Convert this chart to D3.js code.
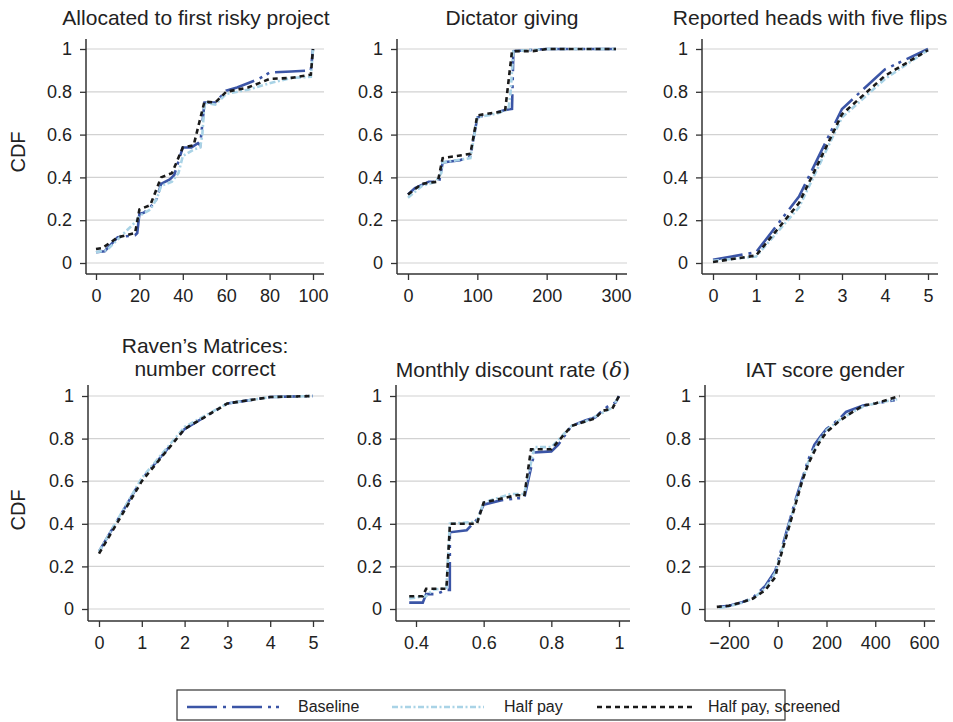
<!DOCTYPE html>
<html>
<head>
<meta charset="utf-8">
<script src="https://cdn.jsdelivr.net/npm/d3@7"></script>
<style>
  body { margin: 0; background: #fff; }
  svg { font-family: "Liberation Sans", Arial, sans-serif; }
</style>
</head>
<body>
<div id="chart"></div>
<script>
// series names
const seriesNames = ["Baseline", "Half pay", "Half pay, screened"];

// panel titles
const titles = [
  ["Allocated to first risky project"],
  ["Dictator giving"],
  ["Reported heads with five flips"],
  ["Raven\u2019s Matrices:", "number correct"],
  ["Monthly discount rate "],
  ["IAT score gender"]
];

// x tick labels per panel
const xTicks = [
  [0, 20, 40, 60, 80, 100],
  [0, 100, 200, 300],
  [0, 1, 2, 3, 4, 5],
  [0, 1, 2, 3, 4, 5],
  [0.4, 0.6, 0.8, 1],
  [-200, 0, 200, 400, 600]
];
const yTicks = [0, 0.2, 0.4, 0.6, 0.8, 1];

// Allocated to first risky project
const riskyBase = [[0,0.05],[4,0.055],[10,0.12],[18,0.13],[19,0.14],[20,0.23],[22,0.235],[25,0.26],[28,0.3],[30,0.37],[34,0.39],[36,0.41],[40,0.54],[44,0.54],[47,0.56],[48,0.55],[50,0.75],[55,0.75],[60,0.805],[65,0.82],[70,0.84],[75,0.86],[80,0.89],[90,0.895],[99,0.9],[100,1]];
const riskyHalf = [[0,0.05],[5,0.06],[10,0.11],[19,0.2],[20,0.22],[25,0.25],[28,0.3],[30,0.36],[35,0.38],[38,0.42],[40,0.5],[45,0.53],[48,0.54],[49,0.6],[50,0.75],[55,0.74],[60,0.79],[70,0.81],[80,0.84],[90,0.865],[99,0.87],[100,1]];
const riskyScr = [[0,0.065],[3,0.07],[10,0.12],[18,0.14],[20,0.25],[25,0.27],[30,0.4],[35,0.42],[40,0.54],[45,0.55],[50,0.755],[55,0.75],[60,0.8],[70,0.82],[80,0.86],[90,0.865],[99,0.88],[100,1]];

// Dictator giving
const dictBase = [[0,0.32],[10,0.35],[30,0.38],[45,0.38],[50,0.47],[75,0.48],[90,0.5],[100,0.68],[140,0.715],[150,0.72],[152,0.99],[200,1],[300,1]];
const dictHalf = [[0,0.305],[20,0.36],[40,0.38],[48,0.42],[50,0.47],[90,0.49],[100,0.68],[130,0.7],[145,0.72],[148,0.8],[152,0.99],[200,1],[300,1]];
const dictScr = [[0,0.32],[20,0.37],[43,0.38],[50,0.49],[90,0.51],[100,0.69],[140,0.71],[150,0.99],[180,0.99],[200,1],[300,1]];

// Reported heads with five flips
const headsBase = [[0,0.015],[1,0.05],[2,0.31],[3,0.72],[4,0.905],[5,1]];
const headsHalf = [[0,0.01],[1,0.03],[2,0.26],[3,0.68],[4,0.86],[5,0.995]];
const headsScr = [[0,0.005],[1,0.035],[2,0.28],[3,0.695],[4,0.875],[5,0.995]];

// Raven's Matrices
const ravenBase = [[0,0.27],[1,0.61],[2,0.845],[3,0.965],[4,0.995],[5,1]];
const ravenHalf = [[0,0.27],[1,0.615],[2,0.855],[3,0.965],[4,0.995],[5,1]];
const ravenScr = [[0,0.26],[1,0.6],[2,0.845],[3,0.965],[4,0.995],[5,1]];

// Monthly discount rate
const discBase = [[0.38,0.03],[0.42,0.03],[0.43,0.07],[0.46,0.07],[0.49,0.09],[0.5,0.09],[0.5,0.36],[0.55,0.37],[0.58,0.42],[0.6,0.49],[0.65,0.51],[0.7,0.52],[0.72,0.52],[0.75,0.735],[0.8,0.74],[0.82,0.77],[0.86,0.86],[0.9,0.885],[0.93,0.9],[0.95,0.93],[0.97,0.955],[0.99,0.97],[1,1]];
const discHalf = [[0.38,0.05],[0.43,0.06],[0.45,0.09],[0.49,0.1],[0.5,0.4],[0.58,0.41],[0.6,0.5],[0.68,0.54],[0.72,0.54],[0.75,0.76],[0.8,0.76],[0.86,0.86],[0.9,0.88],[0.95,0.92],[0.98,0.945],[1,1]];
const discScr = [[0.38,0.06],[0.42,0.06],[0.43,0.095],[0.49,0.095],[0.5,0.39],[0.5,0.4],[0.58,0.4],[0.6,0.5],[0.7,0.535],[0.72,0.53],[0.74,0.75],[0.8,0.75],[0.86,0.86],[0.9,0.88],[0.93,0.895],[0.95,0.93],[0.98,0.94],[1,1]];

// IAT score gender
const iatBase = [[-240,0.01],[-200,0.015],[-150,0.03],[-100,0.055],[-50,0.11],[-10,0.18],[0,0.22],[25,0.32],[50,0.42],[75,0.52],[100,0.61],[125,0.7],[150,0.77],[175,0.81],[200,0.845],[250,0.89],[280,0.925],[350,0.955],[400,0.965],[480,0.98]];
const iatHalf = [[-240,0.005],[-200,0.012],[-150,0.028],[-100,0.05],[-50,0.1],[-10,0.17],[0,0.21],[25,0.31],[50,0.41],[75,0.51],[100,0.6],[125,0.69],[150,0.75],[175,0.8],[200,0.84],[250,0.885],[300,0.92],[350,0.95],[400,0.965],[490,0.985]];
const iatScr = [[-250,0.01],[-200,0.015],[-150,0.03],[-100,0.05],[-50,0.09],[-10,0.15],[0,0.2],[25,0.3],[50,0.4],[75,0.5],[100,0.6],[125,0.68],[150,0.74],[175,0.79],[200,0.83],[250,0.88],[300,0.92],[350,0.955],[400,0.965],[500,1]];

const panelData = [
  [riskyBase, riskyHalf, riskyScr],
  [dictBase, dictHalf, dictScr],
  [headsBase, headsHalf, headsScr],
  [ravenBase, ravenHalf, ravenScr],
  [discBase, discHalf, discScr],
  [iatBase, iatHalf, iatScr]
];

// layout: plot box, and pixel positions of first/last x tick
const layout = [
  { left: 86,  right: 324, top: 39,  bottom: 274, y1: 49,  y0: 263, tx: [96, 313],  titleX: 196, titleY: [25] },
  { left: 397, right: 627, top: 39,  bottom: 274, y1: 49,  y0: 263, tx: [408, 616], titleX: 512, titleY: [25] },
  { left: 702, right: 938, top: 39,  bottom: 274, y1: 49,  y0: 263, tx: [713, 928], titleX: 810, titleY: [25] },
  { left: 88,  right: 324, top: 385, bottom: 621, y1: 396, y0: 609, tx: [99, 313],  titleX: 205, titleY: [353, 376] },
  { left: 396, right: 630, top: 385, bottom: 621, y1: 396, y0: 609, tx: [416, 619], titleX: 513, titleY: [377] },
  { left: 705, right: 935, top: 385, bottom: 621, y1: 396, y0: 609, tx: [729, 924], titleX: 825, titleY: [377] }
];

const styles = [
  { color: "#3b55a6", dash: "30,6,3,6,30,6,3,5,3,6", width: 2.6 },
  { color: "#a9d3e6", dash: "6,2.5,2,2.5", width: 2.6 },
  { color: "#1a1a1a", dash: "5,4", width: 2.6 }
];

const svg = d3.select("#chart").append("svg")
    .attr("width", 953)
    .attr("height", 722);

panelData.forEach((series, i) => {
  const L = layout[i];
  const ticks = xTicks[i];
  const x = d3.scaleLinear()
      .domain([ticks[0], ticks[ticks.length - 1]])
      .range(L.tx);
  const y = d3.scaleLinear().domain([0, 1]).range([L.y0, L.y1]);

  const g = svg.append("g");

  // gridlines
  g.selectAll("line.grid")
    .data(yTicks)
    .enter().append("line")
      .attr("x1", L.left).attr("x2", L.right)
      .attr("y1", d => y(d)).attr("y2", d => y(d))
      .attr("stroke", "#d2d2d2")
      .attr("stroke-width", 1.2);

  // y axis
  const yAxis = g.append("g")
      .attr("transform", `translate(${L.left},0)`)
      .call(d3.axisLeft(y).tickValues(yTicks).tickSize(6).tickPadding(8)
        .tickFormat(d => d3.format("~g")(d)));
  yAxis.select(".domain").remove();
  g.append("line")
      .attr("x1", L.left).attr("x2", L.left)
      .attr("y1", L.top).attr("y2", L.bottom)
      .attr("stroke", "#333").attr("stroke-width", 1.5);

  // x axis
  const xAxis = g.append("g")
      .attr("transform", `translate(0,${L.bottom})`)
      .call(d3.axisBottom(x).tickValues(ticks).tickSize(6).tickPadding(9)
        .tickFormat(d => d < 0 ? "\u2212" + Math.abs(d) : d3.format("~g")(d)));
  xAxis.select(".domain").remove();
  g.append("line")
      .attr("x1", L.left).attr("x2", L.right)
      .attr("y1", L.bottom).attr("y2", L.bottom)
      .attr("stroke", "#333").attr("stroke-width", 1.5);

  g.selectAll(".tick line").attr("stroke", "#333").attr("stroke-width", 1.3);
  g.selectAll(".tick text")
      .attr("fill", "#222")
      .style("font-size", "18px")
      .style("font-family", "'Liberation Sans', Arial, sans-serif");

  // lines
  const line = d3.line().x(d => x(d[0])).y(d => y(d[1]));
  series.forEach((s, k) => {
    g.append("path")
        .datum(s)
        .attr("d", line)
        .attr("fill", "none")
        .attr("stroke", styles[k].color)
        .attr("stroke-width", styles[k].width)
        .attr("stroke-dasharray", styles[k].dash);
  });

  // title
  titles[i].forEach((t, j) => {
    const txt = svg.append("text")
        .attr("x", L.titleX)
        .attr("y", L.titleY[j])
        .attr("text-anchor", "middle")
        .attr("fill", "#222")
        .style("font-size", "21px")
        .text(t);
    if (i === 4) {
      txt.append("tspan")
          .style("font-family", "'DejaVu Serif', serif")
          .text("(");
      txt.append("tspan")
          .style("font-family", "'DejaVu Serif', serif")
          .style("font-style", "italic")
          .text("\u03b4");
      txt.append("tspan")
          .style("font-family", "'DejaVu Serif', serif")
          .text(")");
    }
  });
});

// CDF labels
[152, 510].forEach(cy => {
  svg.append("text")
      .attr("transform", `translate(25,${cy}) rotate(-90)`)
      .attr("text-anchor", "middle")
      .attr("fill", "#222")
      .style("font-size", "20px")
      .text("CDF");
});

// legend
const legend = svg.append("g");
legend.append("rect")
    .attr("x", 177).attr("y", 690)
    .attr("width", 608).attr("height", 30)
    .attr("fill", "#fff")
    .attr("stroke", "#333")
    .attr("stroke-width", 1.2);
const legendPos = [[187, 284, 298], [392, 484, 504], [597, 692, 708]];
seriesNames.forEach((name, k) => {
  const p = legendPos[k];
  legend.append("line")
      .attr("x1", p[0]).attr("x2", p[1])
      .attr("y1", 707).attr("y2", 707)
      .attr("stroke", styles[k].color)
      .attr("stroke-width", styles[k].width)
      .attr("stroke-dasharray", styles[k].dash);
  legend.append("text")
      .attr("x", p[2]).attr("y", 712)
      .attr("fill", "#222")
      .style("font-size", "16px")
      .text(name);
});
</script>
</body>
</html>
